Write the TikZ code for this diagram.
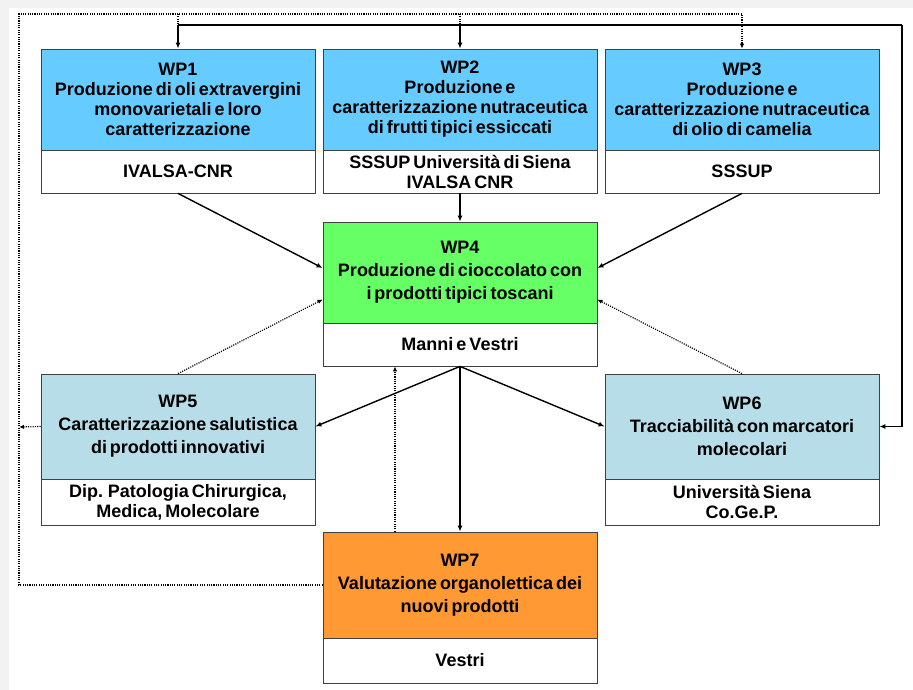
\documentclass[tikz,border=0pt]{standalone}
\usepackage{fontspec}
\setmainfont{Liberation Sans}[WordSpace=0.6]
\usetikzlibrary{arrows.meta,calc}
\definecolor{mygrey}{RGB}{242, 242, 242}
\definecolor{myblue}{RGB}{102, 204, 255}
\definecolor{mygreen}{RGB}{102, 255, 102}
\definecolor{myteal}{RGB}{183, 222, 232}
\definecolor{myorange}{RGB}{255, 153, 51}
\definecolor{myline}{RGB}{64, 64, 64}

\tikzset{
    wpbox/.style={draw=myline, line width=0.8pt, minimum width=274pt, inner sep=0pt, align=center, font=\fontsize{18}{20}\selectfont\bfseries},
    wplong/.style={wpbox, font=\fontsize{18}{23}\selectfont\bfseries},
    flow/.style={line width=1.4pt, -{Latex[length=6pt,width=5pt]}},
    dots/.style={line width=1.2pt, dash pattern=on 1.1pt off 1.2pt},
    dotflow/.style={dots, -{Latex[length=5pt,width=4.5pt]}}
}

\begin{document}
\begin{tikzpicture}[x=1pt, y=-1pt]
        % Sfondo
        \fill[mygrey] (0,0) rectangle (913,690);
        \fill[white] (9,8) rectangle (913,690);
        \useasboundingbox (0,0) rectangle (913,690);

        % Prima riga
        \node[wpbox, fill=myblue, minimum height=101pt] (wp1) at (178,99.5) {WP1\\Produzione di oli extravergini\\monovarietali e loro\\caratterizzazione};
        \node[wpbox, fill=white, minimum height=43pt] (wp1b) at (178,171.5) {IVALSA-CNR};
        \node[wpbox, fill=myblue, minimum height=101pt] (wp2) at (460,99.5) {WP2\\Produzione e\\caratterizzazione nutraceutica\\di frutti tipici essiccati};
        \node[wpbox, fill=white, minimum height=43pt] (wp2b) at (460,171.5) {SSSUP Università di Siena\\IVALSA CNR};
        \node[wpbox, fill=myblue, minimum height=101pt] (wp3) at (742,99.5) {WP3\\Produzione e\\caratterizzazione nutraceutica\\di olio di camelia};
        \node[wpbox, fill=white, minimum height=43pt] (wp3b) at (742,171.5) {SSSUP};

        % WP4
        \node[wplong, fill=mygreen, minimum height=101pt] (wp4) at (460,272.5) {WP4\\Produzione di cioccolato con\\i prodotti tipici toscani};
        \node[wpbox, fill=white, minimum height=43pt] (wp4b) at (460,344.5) {Manni e Vestri};

        % WP5 e WP6
        \node[wplong, fill=myteal, minimum height=105pt] (wp5) at (178,426.5) {WP5\\Caratterizzazione salutistica\\di prodotti innovativi};
        \node[wpbox, fill=white, minimum height=46pt] (wp5b) at (178,502) {Dip. Patologia Chirurgica,\\Medica, Molecolare};
        \node[wplong, fill=myteal, minimum height=105pt] (wp6) at (742,426.5) {WP6\\Tracciabilità con marcatori\\molecolari};
        \node[wpbox, fill=white, minimum height=46pt] (wp6b) at (742,502) {Università Siena\\Co.Ge.P.};

        % WP7
        \node[wplong, fill=myorange, minimum height=106pt] (wp7) at (460,585) {WP7\\Valutazione organolettica dei\\nuovi prodotti};
        \node[wpbox, fill=white, minimum height=45pt] (wp7b) at (460,660.5) {Vestri};

        % Frecce verso WP4
        \draw[flow] (wp1b.south) -- ([yshift=4.5pt]wp4.west);
        \draw[flow] (wp2b.south) -- (wp4.north);
        \draw[flow] (wp3b.south) -- ([yshift=4.5pt]wp4.east);
        \draw[dotflow] (wp5.north) -- ([yshift=-27pt]wp4.west);
        \draw[dotflow] (wp6.north) -- ([yshift=-27pt]wp4.east);
        \draw[dotflow] ([xshift=-65pt]wp7.north) -- ([xshift=-65pt]wp4b.south);

        % Frecce da WP4
        \draw[flow] (wp4b.south) -- (wp5.east);
        \draw[flow] (wp4b.south) -- (wp6.west);
        \draw[flow] (wp4b.south) -- (wp7.north);

        % Linea superiore
        \coordinate (bus1) at (178,25);
        \coordinate (bus2) at (460,25);
        \coordinate (busr) at (902,25);
        \draw[line width=1.4pt] (bus1) -- (busr);
        \draw[flow] (busr) |- (wp6.east);
        \draw[flow] (bus1) -- (wp1.north);
        \draw[flow] (bus2) -- (wp2.north);

        % Linea tratteggiata esterna
        \coordinate (lft) at (19,427);
        \coordinate (top) at (19,14);
        \draw[dotflow] (wp5.west) -- (lft);
        \draw[dotflow] (wp7.west) -| (top) -| (wp3.north);
        \draw[dots] (bus1 |- top) -- (bus1);
        \draw[dots] (bus2 |- top) -- (bus2);
    \end{tikzpicture}
\end{document}
